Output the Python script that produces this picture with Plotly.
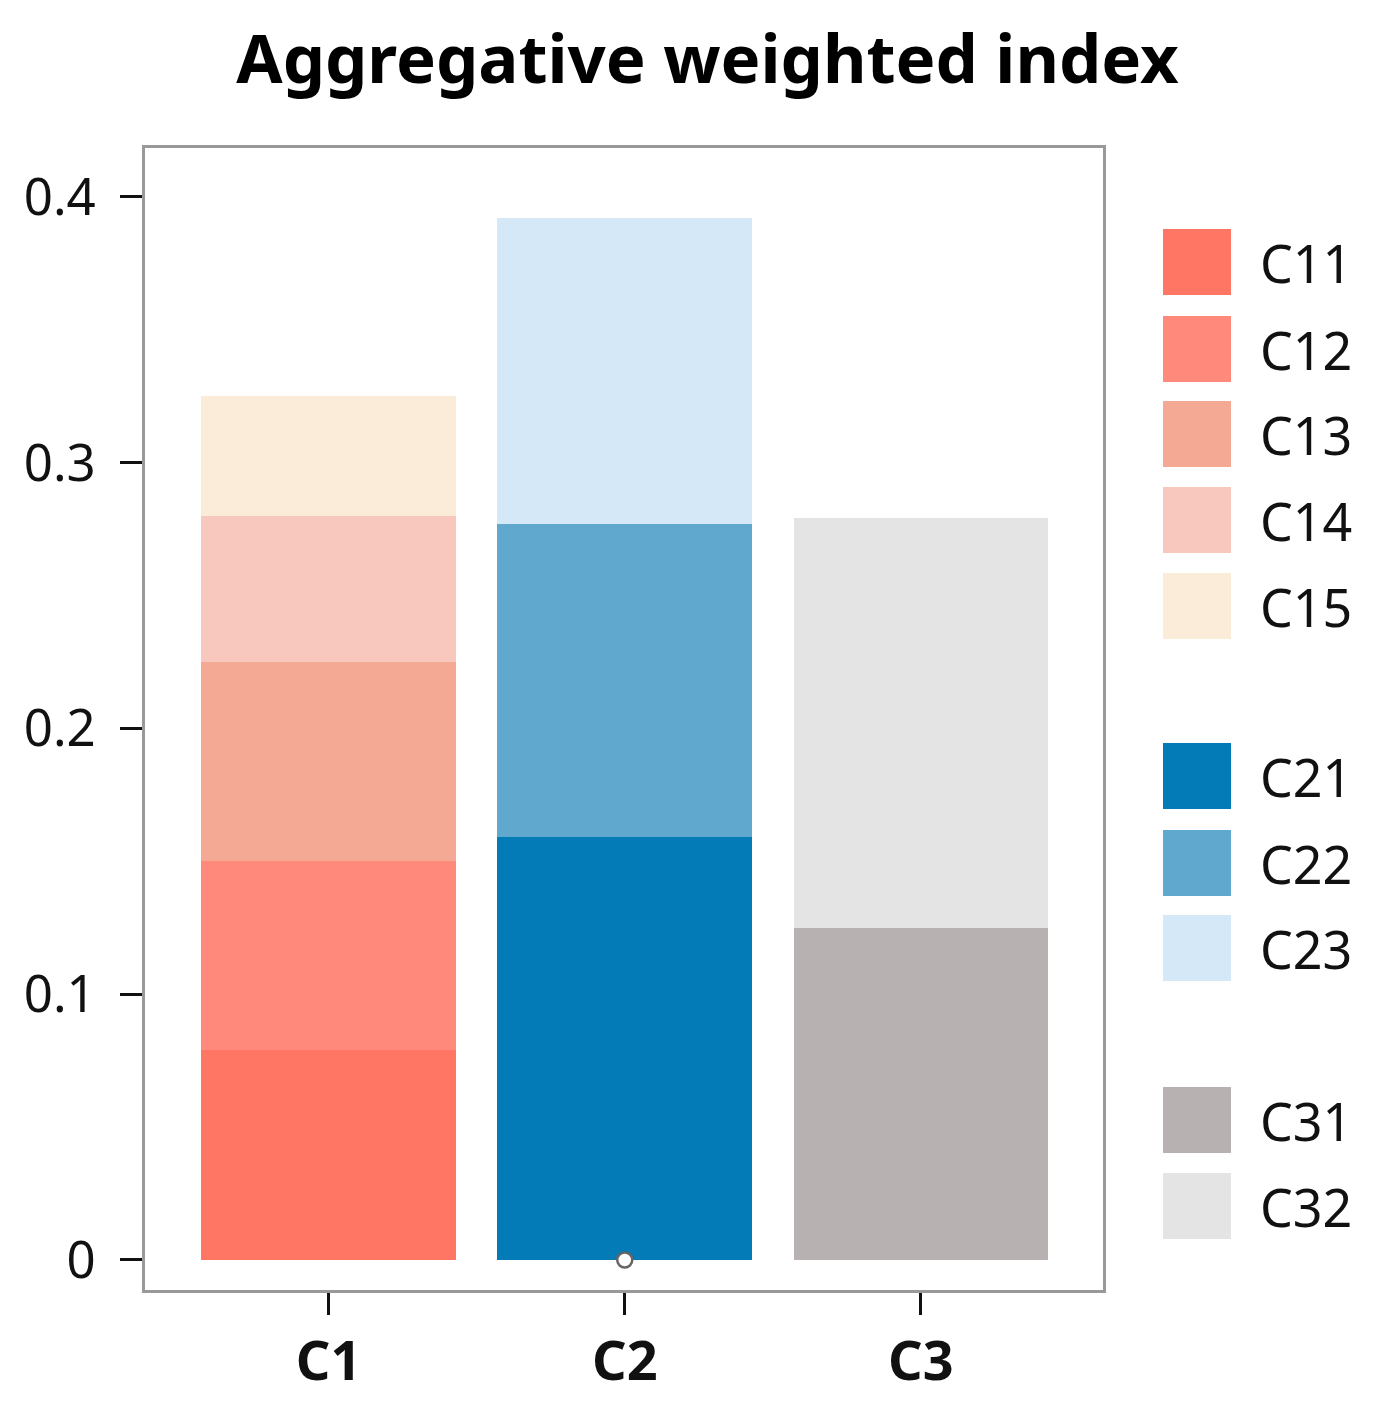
import plotly.graph_objects as go

categories = ["C1", "C2", "C3"]
sub_names = ["C11", "C12", "C13", "C14", "C15", "C21", "C22", "C23", "C31", "C32"]
sub_parent = ["C1", "C1", "C1", "C1", "C1", "C2", "C2", "C2", "C3", "C3"]
sub_values = [0.079, 0.071, 0.075, 0.055, 0.045, 0.159, 0.118, 0.115, 0.125, 0.154]
sub_colors = ["#FF7664", "#FF897A", "#F4A994", "#F8C7BD", "#FBECDA",
              "#027BB6", "#61A8CF", "#D5E8F8", "#B7B2B1", "#E4E4E4"]
y_ticks = [0, 0.1, 0.2, 0.3, 0.4]
y_tick_labels = ["0", "0.1", "0.2", "0.3", "0.4"]

FONT = "Noto Sans"
W, H = 1379, 1403
OFF = 8  # page body offset
L, R, T, B = 145, 1103, 148, 1290

fig = go.Figure()
for name, parent, val, col in zip(sub_names, sub_parent, sub_values, sub_colors):
    fig.add_trace(go.Bar(x=[parent], y=[val], name=name, marker_color=col,
                         marker_line_width=0, width=0.86, showlegend=False))

fig.add_trace(go.Scatter(x=["C2"], y=[0], mode="markers", showlegend=False,
                         marker=dict(size=15, color="white", line=dict(color="#666666", width=2.5)),
                         cliponaxis=False))

# custom legend (large swatches)
legend_y = [262, 349, 434, 520, 606, 776, 863, 948, 1120, 1206]
shapes, annots = [], []
for name, col, py in zip(sub_names, sub_colors, legend_y):
    x0 = (1163 - L) / (R - L); x1 = (1231 - L) / (R - L)
    y0 = (B - (py + 33)) / (B - T); y1 = (B - (py - 33)) / (B - T)
    shapes.append(dict(type="rect", xref="paper", yref="paper", x0=x0, x1=x1, y0=y0, y1=y1,
                       fillcolor=col, line=dict(width=0), layer="above"))
    annots.append(dict(xref="paper", yref="paper", x=(1258 - L) / (R - L), y=(B - py) / (B - T),
                       text=name, showarrow=False, xanchor="left", yanchor="middle",
                       font=dict(family=FONT, size=52, color="#111111")))

fig.update_layout(
    width=W, height=H,
    margin=dict(l=L - OFF, r=W - R + OFF, t=T - OFF, b=H - B + OFF),
    paper_bgcolor="white", plot_bgcolor="white",
    barmode="stack", bargap=0,
    title=dict(text="<b>Aggregative weighted index</b>", x=((232 + 1183) / 2 - OFF) / W, xanchor="center",
               y=1 - 52 / H, yanchor="middle",
               font=dict(family=FONT, size=67, color="#000000")),
    shapes=shapes, annotations=annots,
)
fig.update_xaxes(categoryorder="array", categoryarray=categories, range=[-0.62, 2.615],
                 showline=True, linecolor="#999999", linewidth=3, mirror=True,
                 ticks="outside", ticklen=22, tickwidth=3, tickcolor="#111111",
                 showgrid=False, zeroline=False,
                 tickfont=dict(family=FONT, size=54, color="#111111"),
                 tickprefix="<b>", ticksuffix="</b>")
fig.update_yaxes(range=[-0.0113, 0.4184], tickvals=y_ticks, ticktext=y_tick_labels,
                 showline=True, linecolor="#999999", linewidth=3, mirror=True,
                 ticks="outside", ticklen=22, tickwidth=3, tickcolor="#111111",
                 showgrid=False, zeroline=False, ticklabelstandoff=14,
                 tickfont=dict(family=FONT, size=51, color="#111111"))

fig.write_html("out.html")
